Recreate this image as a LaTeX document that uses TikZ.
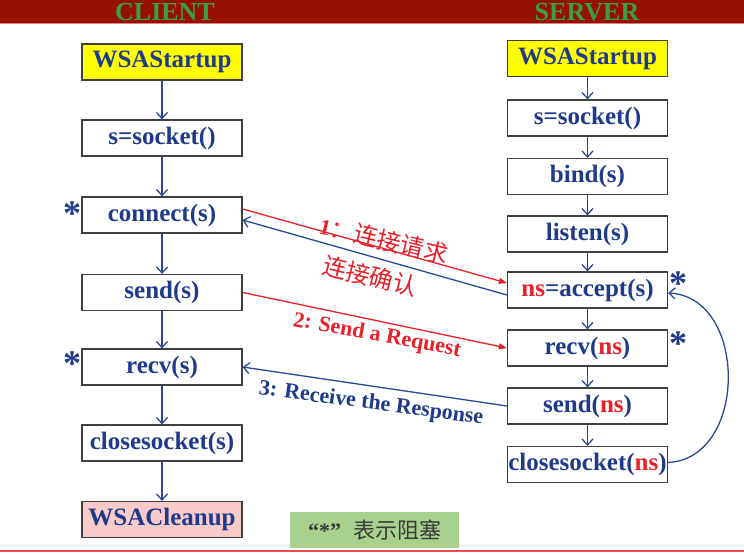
\documentclass[tikz,border=0pt]{standalone}
\usepackage{fontspec}
\setmainfont{Liberation Serif}
\newfontfamily\cjk{Noto Sans CJK SC}
\usetikzlibrary{arrows.meta,calc}
\definecolor{tblue}{HTML}{1F3A8A}
\definecolor{lblue}{HTML}{2A4898}
\definecolor{tred}{HTML}{E8202A}
\definecolor{bgray}{HTML}{404040}
\definecolor{band}{HTML}{961200}
\definecolor{bandline}{HTML}{E08080}
\definecolor{hgreen}{HTML}{3C9E44}
\definecolor{yel}{HTML}{FFFF00}
\definecolor{pinkbox}{HTML}{F8CACA}
\definecolor{leggreen}{HTML}{A9D18E}
\definecolor{leggray}{HTML}{3A3A3A}
\begin{document}
\begin{tikzpicture}[x=1pt,y=-1pt,
  box/.style={draw=bgray, line width=1.2pt, minimum width=160pt, minimum height=36pt,
    inner sep=0pt, font=\fontsize{25}{25}\selectfont\bfseries, text=tblue, fill=white},
  flow/.style={draw=lblue, line width=1.3pt, -{Straight Barb[length=6pt,width=11pt,line width=1.3pt]}},
  redarr/.style={draw=tred, line width=1.3pt, -{Triangle[length=8pt,width=6pt]}},
  bluearr/.style={draw=lblue, line width=1.3pt, -{Straight Barb[length=6pt,width=11pt,line width=1.3pt]}},
  lbl/.style={font=\fontsize{22}{22}\selectfont\bfseries, inner sep=0pt},
  star/.style={font=\fontsize{36}{36}\selectfont\bfseries, text=tblue, inner sep=0pt},
  head/.style={font=\fontsize{26}{26}\selectfont\bfseries, text=hgreen, inner sep=0pt}]
\useasboundingbox (0,0) rectangle (744,554);
\fill[white] (0,0) rectangle (744,554);
% header band
\fill[band] (0,0) rectangle (744,23);
\draw[bandline, line width=1.5pt] (0,23.5) -- (744,23.5);
\node[head] (hc) at (165,12) {CLIENT};
\node[head] (hs) at (587,12) {SERVER};
% bottom line
\draw[tred!80!white, line width=1.5pt] (0,551) -- (744,551);
% client column
\node[box, fill=yel] (cstart) at (162,62) {WSAStartup};
\node[box] (csock) at (162,138) {s=socket()};
\node[box] (cconn) at (162,215) {connect(s)};
\node[box] (csend) at (162,292.5) {send(s)};
\node[box] (crecv) at (162,367) {recv(s)};
\node[box] (cclose) at (162,443) {closesocket(s)};
\node[box, fill=pinkbox] (cclean) at (162,519.5) {WSACleanup};
% server column
\node[box, fill=yel] (sstart) at (587.5,58.5) {WSAStartup};
\node[box] (ssock) at (587.5,118) {s=socket()};
\node[box] (sbind) at (587.5,176.5) {bind(s)};
\node[box] (slisten) at (587.5,234) {listen(s)};
\node[box] (saccept) at (587.5,290) {\textcolor{tred}{ns}=accept(s)};
\node[box] (srecv) at (587.5,348) {recv(\textcolor{tred}{ns})};
\node[box] (ssend) at (587.5,406) {send(\textcolor{tred}{ns})};
\node[box] (sclose) at (587.5,464.5) {closesocket(\textcolor{tred}{ns})};
% vertical flow
\foreach \a/\b in {cstart/csock, csock/cconn, cconn/csend, csend/crecv, crecv/cclose, cclose/cclean,
  sstart/ssock, ssock/sbind, sbind/slisten, slisten/saccept, saccept/srecv, srecv/ssend, ssend/sclose}
  \draw[flow] (\a) -- (\b);
% stars
\node[star] (st1) at (72,214) {*};
\node[star] (st2) at (72,364) {*};
\node[star] (st3) at (678,284) {*};
\node[star] (st4) at (678,344) {*};
% cross connectors
\draw[redarr] ($(cconn.east)+(0,-6)$) -- ($(saccept.west)+(0,-7)$);
\draw[bluearr] ($(saccept.west)+(0,5)$) -- ($(cconn.east)+(0,5)$);
\draw[redarr] (csend.east) -- (srecv.west);
\draw[bluearr] (ssend.west) -- (crecv.east);
\draw[bluearr] ($(sclose.east)+(0,-2)$) .. controls +(80,-4) and +(80,4) .. ($(saccept.east)+(0,3)$);
% labels
\node[lbl, text=tred, rotate=-13.5] (l1) at (384,240) {1{\cjk\mdseries\fontsize{24}{24}\selectfont ：连接请求}};
\node[lbl, text=tred, rotate=-14] (l1b) at (370,276) {\cjk\mdseries\fontsize{24}{24}\selectfont 连接确认};
\node[lbl, text=tred, rotate=-10.3] (l2) at (377,336) {2: Send a Request};
\node[lbl, text=tblue, rotate=-7.6] (l3) at (371,404) {3: Receive the Response};
% legend
\node[fill=leggreen, minimum width=169pt, minimum height=36pt, inner sep=0pt,
  font=\fontsize{22}{22}\selectfont, text=leggray] (leg) at (374.5,530)
  {{\bfseries “*”}\hspace{12pt}{\cjk 表示阻塞}};
\end{tikzpicture}
\end{document}
